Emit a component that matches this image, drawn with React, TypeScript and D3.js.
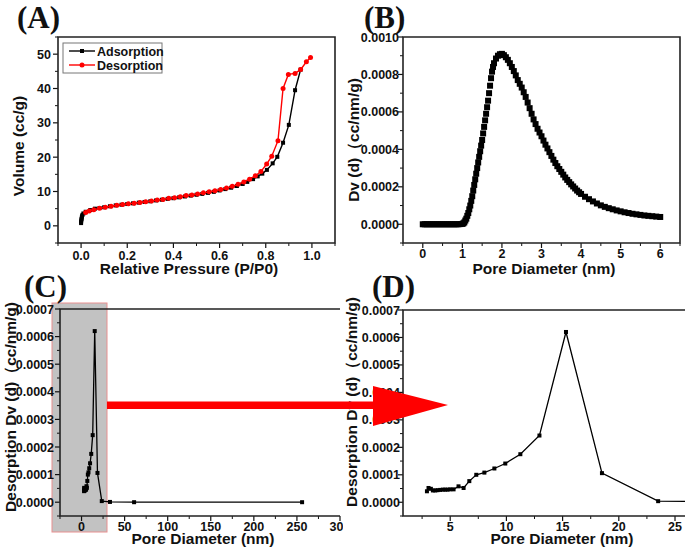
import React from "react";
import * as d3 from "d3";

// ---------- Panel A: N2 isotherm ----------
const adsorptionP = [0.0, 0.0, 0.001, 0.002, 0.003, 0.004, 0.006, 0.01, 0.02, 0.04, 0.06, 0.08, 0.1,
  0.125, 0.15, 0.175, 0.2, 0.225, 0.25, 0.275, 0.3, 0.325, 0.35, 0.375, 0.4, 0.425, 0.45, 0.475, 0.5,
  0.525, 0.55, 0.575, 0.6, 0.625, 0.65, 0.675, 0.7,
  0.72, 0.745, 0.765, 0.785, 0.805, 0.83, 0.85, 0.875, 0.9, 0.927, 0.951];
const adsorptionV = [0.8, 1.2, 1.6, 2.0, 2.4, 2.8, 3.2, 3.6, 4.1, 4.6, 5.0, 5.2, 5.4,
  5.7, 5.95, 6.15, 6.35, 6.55, 6.75, 6.95, 7.15, 7.4, 7.6, 7.85, 8.05, 8.3, 8.55, 8.8, 9.05,
  9.3, 9.6, 9.9, 10.3, 10.7, 11.1, 11.6, 12.2,
  12.8, 13.6, 14.4, 15.2, 16.3, 18.2, 20.1, 24.2, 29.4, 39.5, 45.5];
const desorptionP = [0.02, 0.035, 0.055, 0.08,
  0.105, 0.13, 0.155, 0.18, 0.205, 0.23, 0.255, 0.28, 0.305, 0.33, 0.355, 0.38, 0.405, 0.43, 0.455,
  0.48, 0.505, 0.53, 0.555, 0.58, 0.605, 0.63, 0.655, 0.68, 0.705, 0.73,
  0.755, 0.779, 0.804, 0.826, 0.853, 0.875, 0.898, 0.927, 0.951, 0.976, 0.994];
const desorptionV = [3.9, 4.3, 4.7, 5.1,
  5.4, 5.7, 6.0, 6.2, 6.4, 6.6, 6.8, 7.0, 7.2, 7.5, 7.7, 8.0, 8.2, 8.5, 8.8,
  9.0, 9.3, 9.6, 9.9, 10.2, 10.6, 11.0, 11.5, 12.1, 12.8, 13.6,
  14.6, 15.8, 18.0, 20.3, 24.8, 40.0, 44.1, 44.4, 45.5, 47.8, 49.0];
const aXTicks = [0, 0.2, 0.4, 0.6, 0.8, 1.0];
const aXMinor = [-0.1, 0.1, 0.3, 0.5, 0.7, 0.9, 1.1];
const aXLabels = ["0.0", "0.2", "0.4", "0.6", "0.8", "1.0"];
const aYTicks = [0, 10, 20, 30, 40, 50];
const aYMinor = [-5, 5, 15, 25, 35, 45, 55];
const aYLabels = ["0", "10", "20", "30", "40", "50"];

// ---------- Panel B: pore size distribution (Dv in 1e-4 cc/nm/g) ----------
const bDiameter = [0, 0.05, 0.1, 0.15, 0.2, 0.25, 0.3, 0.35, 0.4, 0.45, 0.5, 0.55, 0.6, 0.65, 0.7, 0.75, 0.8, 0.85, 0.9, 0.95, 1.0,
  1.025, 1.05, 1.075, 1.1, 1.125, 1.15, 1.175, 1.2, 1.225, 1.25, 1.275, 1.3, 1.325, 1.35, 1.375, 1.4,
  1.425, 1.45, 1.475, 1.5, 1.525, 1.55, 1.575, 1.6, 1.625, 1.65, 1.675, 1.7, 1.725, 1.75, 1.775, 1.8,
  1.85, 1.9, 1.95, 2.0, 2.05, 2.1, 2.15, 2.2, 2.25, 2.3, 2.35, 2.4, 2.45, 2.5, 2.55, 2.6, 2.65, 2.7,
  2.75, 2.8, 2.85, 2.9, 2.95, 3.0,
  3.05, 3.1, 3.15, 3.2, 3.25, 3.3, 3.35, 3.4, 3.45, 3.5, 3.55, 3.6, 3.65, 3.7, 3.75, 3.8, 3.85, 3.9, 3.95, 4.0,
  4.1, 4.2, 4.3, 4.4, 4.5, 4.6, 4.7, 4.8, 4.9, 5.0, 5.1, 5.2, 5.3, 5.4, 5.5, 5.6, 5.7, 5.8, 5.9, 6.0];
const bDv = [0, 0, 0, 0, 0, 0, 0, 0, 0, 0, 0, 0, 0, 0, 0, 0, 0, 0, 0, 0.01, 0.02,
  0.05, 0.1, 0.2, 0.3, 0.45, 0.6, 0.8, 1.0, 1.25, 1.5, 1.8, 2.1, 2.4, 2.7, 3.0, 3.3,
  3.6, 3.9, 4.2, 4.5, 4.85, 5.2, 5.55, 5.9, 6.25, 6.6, 7.0, 7.4, 7.8, 8.15, 8.4, 8.6,
  8.85, 9.0, 9.08, 9.1, 9.03, 8.92, 8.78, 8.6, 8.4, 8.18, 7.95, 7.7, 7.5, 7.3, 7.05, 6.8, 6.5, 6.2,
  5.9, 5.6, 5.35, 5.1, 4.9, 4.7,
  4.47, 4.25, 4.05, 3.85, 3.65, 3.45, 3.27, 3.1, 2.95, 2.8, 2.65, 2.5, 2.37, 2.25, 2.13, 2.02, 1.91, 1.8, 1.71, 1.62,
  1.47, 1.34, 1.22, 1.11, 1.01, 0.93, 0.86, 0.8, 0.74, 0.69, 0.64, 0.6, 0.56, 0.53, 0.5, 0.47, 0.45, 0.43, 0.41, 0.39];
const bXTicks = [0, 1, 2, 3, 4, 5, 6];
const bXMinor = [-0.5, 0.5, 1.5, 2.5, 3.5, 4.5, 5.5, 6.5];
const bYTicks = [0, 2, 4, 6, 8, 10];
const bYMinor = [-1, 1, 3, 5, 7, 9];
const bYLabels = ["0.0000", "0.0002", "0.0004", "0.0006", "0.0008", "0.0010"];

// ---------- Panels C & D: BJH desorption (Dv in 1e-4 cc/nm/g) ----------
const cdDiameter = [2.93, 3.07, 3.28, 3.46, 3.67, 3.87, 4.11, 4.35, 4.56, 4.76, 5.0, 5.3, 5.74, 6.19, 6.7,
  7.32, 8.04, 8.93, 9.9, 11.24, 12.94, 15.3, 18.5, 23.5, 33, 61, 256];
const cdDv = [0.40, 0.52, 0.49, 0.43, 0.43, 0.44, 0.45, 0.46, 0.46, 0.46, 0.47, 0.47, 0.58, 0.52, 0.77,
  1.0, 1.08, 1.23, 1.41, 1.75, 2.43, 6.2, 1.06, 0.04, 0.01, 0, 0];
const cXTicks = [0, 50, 100, 150, 200, 250, 300];
const cXMinor = [-25, 25, 75, 125, 175, 225, 275];
const dXTicks = [5, 10, 15, 20, 25];
const dXMinor = [2.5, 7.5, 12.5, 17.5, 22.5];
const cdYTicks = [0, 1, 2, 3, 4, 5, 6, 7];
const cdYMinor = [-0.5, 0.5, 1.5, 2.5, 3.5, 4.5, 5.5, 6.5];
const cdYLabels = ["0.0000", "0.0001", "0.0002", "0.0003", "0.0004", "0.0005", "0.0006", "0.0007"];

const SANS = "'Liberation Sans', Arial, sans-serif";
const SERIF = "'Liberation Serif', 'Times New Roman', serif";
const INK = "#111";

type Frame = { l: number; r: number; t: number; b: number };

function Axes(props: {
  x: d3.ScaleLinear<number, number>; y: d3.ScaleLinear<number, number>; f: Frame;
  xTicks: number[]; xMinor: number[]; xLabels: string[]; yTicks: number[]; yMinor: number[]; yLabels: string[];
  xLabelBase: number; yLabelRight: number; drawRight: boolean;
}) {
  const { x, y, f } = props;
  const els: any[] = [];
  props.xTicks.forEach((v, i) => {
    const px = x(v);
    els.push(<line key={"xt" + i} x1={px} x2={px} y1={f.b} y2={f.b + 5} stroke={INK} strokeWidth={1.2} />);
    els.push(<text key={"xl" + i} x={px} y={props.xLabelBase} textAnchor="middle" fontSize={12.5} fontWeight="bold" fontFamily={SANS} fill={INK}>{props.xLabels[i]}</text>);
  });
  props.xMinor.forEach((v, i) => {
    const px = x(v);
    els.push(<line key={"xm" + i} x1={px} x2={px} y1={f.b} y2={f.b + 3} stroke={INK} strokeWidth={1} />);
  });
  props.yTicks.forEach((v, i) => {
    const py = y(v);
    els.push(<line key={"yt" + i} x1={f.l - 5} x2={f.l} y1={py} y2={py} stroke={INK} strokeWidth={1.2} />);
    els.push(<text key={"yl" + i} x={props.yLabelRight} y={py} dy="0.36em" textAnchor="end" fontSize={12.5} fontWeight="bold" fontFamily={SANS} fill={INK}>{props.yLabels[i]}</text>);
  });
  props.yMinor.forEach((v, i) => {
    const py = y(v);
    els.push(<line key={"ym" + i} x1={f.l - 3} x2={f.l} y1={py} y2={py} stroke={INK} strokeWidth={1} />);
  });
  const path = props.drawRight
    ? `M${f.l},${f.t}H${f.r}V${f.b}H${f.l}Z`
    : `M${f.r},${f.t}H${f.l}V${f.b}H${f.r}`;
  els.push(<path key="frame" d={path} fill="none" stroke="#222" strokeWidth={1.6} />);
  return <g>{els}</g>;
}

function YTitle({ x, y, text }: { x: number; y: number; text: string }) {
  return (
    <text transform={`translate(${x},${y}) rotate(-90)`} textAnchor="middle" dy="0.35em" fontSize={15.5} fontWeight="bold" fontFamily={SANS} fill={INK}>{text}</text>
  );
}
function XTitle({ x, y, text }: { x: number; y: number; text: string }) {
  return <text x={x} y={y} textAnchor="middle" fontSize={15.5} fontWeight="bold" fontFamily={SANS} fill={INK}>{text}</text>;
}
function PanelLabel({ x, y, text }: { x: number; y: number; text: string }) {
  return <text x={x} y={y} fontSize={31} fontWeight="bold" fontFamily={SERIF} fill={INK}>{text}</text>;
}

export default function App() {
  // Panel A
  const fA: Frame = { l: 58, r: 335, t: 37, b: 243 };
  const xA = d3.scaleLinear().domain([-0.1, 1.1]).range([fA.l, fA.r]);
  const yA = d3.scaleLinear().domain([-5, 55]).range([fA.b, fA.t]);
  const adsPts = adsorptionP.map((p, i) => [p, adsorptionV[i]] as [number, number]);
  const desPts = desorptionP.map((p, i) => [p, desorptionV[i]] as [number, number]);
  const lineA = d3.line<[number, number]>().x((d) => xA(d[0])).y((d) => yA(d[1]));

  // Panel B
  const fB: Frame = { l: 403, r: 680, t: 37, b: 243 };
  const xB = d3.scaleLinear().domain([-0.5, 6.5]).range([fB.l, fB.r]);
  const yB = d3.scaleLinear().domain([-1, 10]).range([fB.b, fB.t]);

  // Panel C
  const fC: Frame = { l: 60, r: 340, t: 309, b: 516 };
  const xC = d3.scaleLinear().domain([-25, 300]).range([fC.l, fC.r]);
  const yC = d3.scaleLinear().domain([-0.5, 7]).range([fC.b, fC.t]);

  // Panel D
  const fD: Frame = { l: 403, r: 686.25, t: 310, b: 516 };
  const xD = d3.scaleLinear().domain([0.8, 26]).range([fD.l, fD.r]);
  const yD = d3.scaleLinear().domain([-0.5, 7]).range([fD.b, fD.t]);

  const cdPts = cdDiameter.map((d, i) => [d, cdDv[i]] as [number, number]);
  const lineC = d3.line<[number, number]>().x((d) => xC(d[0])).y((d) => yC(d[1]));
  const lineD = d3.line<[number, number]>().x((d) => xD(d[0])).y((d) => yD(d[1]));

  return (
    <svg width={685} height={548} style={{ position: "absolute", left: 0, top: 0, background: "#fff" }}>
      <defs>
        <clipPath id="clipA"><rect x={0} y={0} width={340} height={280} /></clipPath>
        <clipPath id="clipB"><rect x={340} y={0} width={345} height={280} /></clipPath>
        <clipPath id="clipC"><rect x={0} y={270} width={343} height={278} /></clipPath>
        <clipPath id="clipD"><rect x={340} y={270} width={345} height={278} /></clipPath>
        <clipPath id="plotD"><rect x={fD.l} y={fD.t - 5} width={fD.r - fD.l} height={fD.b - fD.t + 5} /></clipPath>
      </defs>
      <rect x={0} y={0} width={685} height={548} fill="#fff" />

      {/* Panel A */}
      <g clipPath="url(#clipA)">
        <Axes x={xA} y={yA} f={fA} xTicks={aXTicks} xMinor={aXMinor} xLabels={aXLabels} yTicks={aYTicks} yMinor={aYMinor} yLabels={aYLabels}
          xLabelBase={260} yLabelRight={51} drawRight={true} />
        <path d={lineA(adsPts) || ""} fill="none" stroke="#000" strokeWidth={1.4} />
        {adsPts.map((d, i) => (
          <rect key={"a" + i} x={xA(d[0]) - 2} y={yA(d[1]) - 2} width={4} height={4} fill="#000" />
        ))}
        <path d={lineA(desPts) || ""} fill="none" stroke="#ff0000" strokeWidth={1.4} />
        {desPts.map((d, i) => (
          <circle key={"d" + i} cx={xA(d[0])} cy={yA(d[1])} r={2.5} fill="#ff0000" />
        ))}
        {/* legend */}
        <rect x={63} y={43} width={99} height={30} fill="#fff" stroke="#777" strokeWidth={1} />
        <line x1={69} x2={95} y1={51} y2={51} stroke="#000" strokeWidth={1.4} />
        <rect x={80} y={49} width={4} height={4} fill="#000" />
        <text x={97} y={51} dy="0.36em" fontSize={12.5} fontWeight="bold" fontFamily={SANS} fill={INK}>Adsorption</text>
        <line x1={69} x2={95} y1={65} y2={65} stroke="#ff0000" strokeWidth={1.4} />
        <circle cx={82} cy={65} r={2.5} fill="#ff0000" />
        <text x={97} y={65} dy="0.36em" fontSize={12.5} fontWeight="bold" fontFamily={SANS} fill={INK}>Desorption</text>
        <YTitle x={19} y={146} text="Volume (cc/g)" />
        <XTitle x={189} y={274} text="Relative Pressure (P/P0)" />
        <PanelLabel x={17} y={28} text="(A)" />
      </g>

      {/* Panel B */}
      <g clipPath="url(#clipB)">
        <Axes x={xB} y={yB} f={fB} xTicks={bXTicks} xMinor={bXMinor} xLabels={bXTicks.map(String)} yTicks={bYTicks} yMinor={bYMinor} yLabels={bYLabels}
          xLabelBase={258} yLabelRight={399} drawRight={true} />
        {bDiameter.map((d, i) => (
          <rect key={"b" + i} x={xB(d) - 3} y={yB(bDv[i]) - 3} width={6} height={6} fill="#000" />
        ))}
        <YTitle x={354} y={140} text="Dv (d)（cc/nm/g)" />
        <XTitle x={544} y={274} text="Pore Diameter (nm)" />
        <PanelLabel x={364} y={28} text="(B)" />
      </g>

      {/* Panel C */}
      <g clipPath="url(#clipC)">
        <rect x={52} y={303} width={55} height={229} fill="#c2c2c2" stroke="#e89090" strokeWidth={1} />
        <Axes x={xC} y={yC} f={fC} xTicks={cXTicks} xMinor={cXMinor} xLabels={cXTicks.map(String)} yTicks={cdYTicks} yMinor={cdYMinor} yLabels={cdYLabels}
          xLabelBase={531} yLabelRight={54} drawRight={false} />
        <path d={lineC(cdPts) || ""} fill="none" stroke="#000" strokeWidth={1.3} />
        {cdPts.map((d, i) => (
          <rect key={"c" + i} x={xC(d[0]) - 2} y={yC(d[1]) - 2} width={4} height={4} fill="#000" />
        ))}
        <YTitle x={11} y={407} text="Desorption Dv (d)（cc/nm/g)" />
        <XTitle x={203} y={544} text="Pore Diameter (nm)" />
        <PanelLabel x={24} y={297} text="(C)" />
      </g>

      {/* Panel D */}
      <g clipPath="url(#clipD)">
        <Axes x={xD} y={yD} f={fD} xTicks={dXTicks} xMinor={dXMinor} xLabels={dXTicks.map(String)} yTicks={cdYTicks} yMinor={cdYMinor} yLabels={cdYLabels}
          xLabelBase={531} yLabelRight={400} drawRight={false} />
        <g clipPath="url(#plotD)">
          <path d={lineD(cdPts) || ""} fill="none" stroke="#000" strokeWidth={1.3} />
          {cdPts.map((d, i) => (
            <rect key={"dd" + i} x={xD(d[0]) - 2} y={yD(d[1]) - 2} width={4} height={4} fill="#000" />
          ))}
        </g>
        <YTitle x={352} y={402} text="Desorption Dv (d)（cc/nm/g)" />
        <XTitle x={562} y={544} text="Pore Diameter (nm)" />
        <PanelLabel x={372} y={297} text="(D)" />
      </g>

      {/* zoom arrow */}
      <rect x={107} y={401.5} width={267} height={7.5} fill="#ff0000" />
      <polygon points="373,386 373,426 448,405" fill="#ff0000" />
    </svg>
  );
}
